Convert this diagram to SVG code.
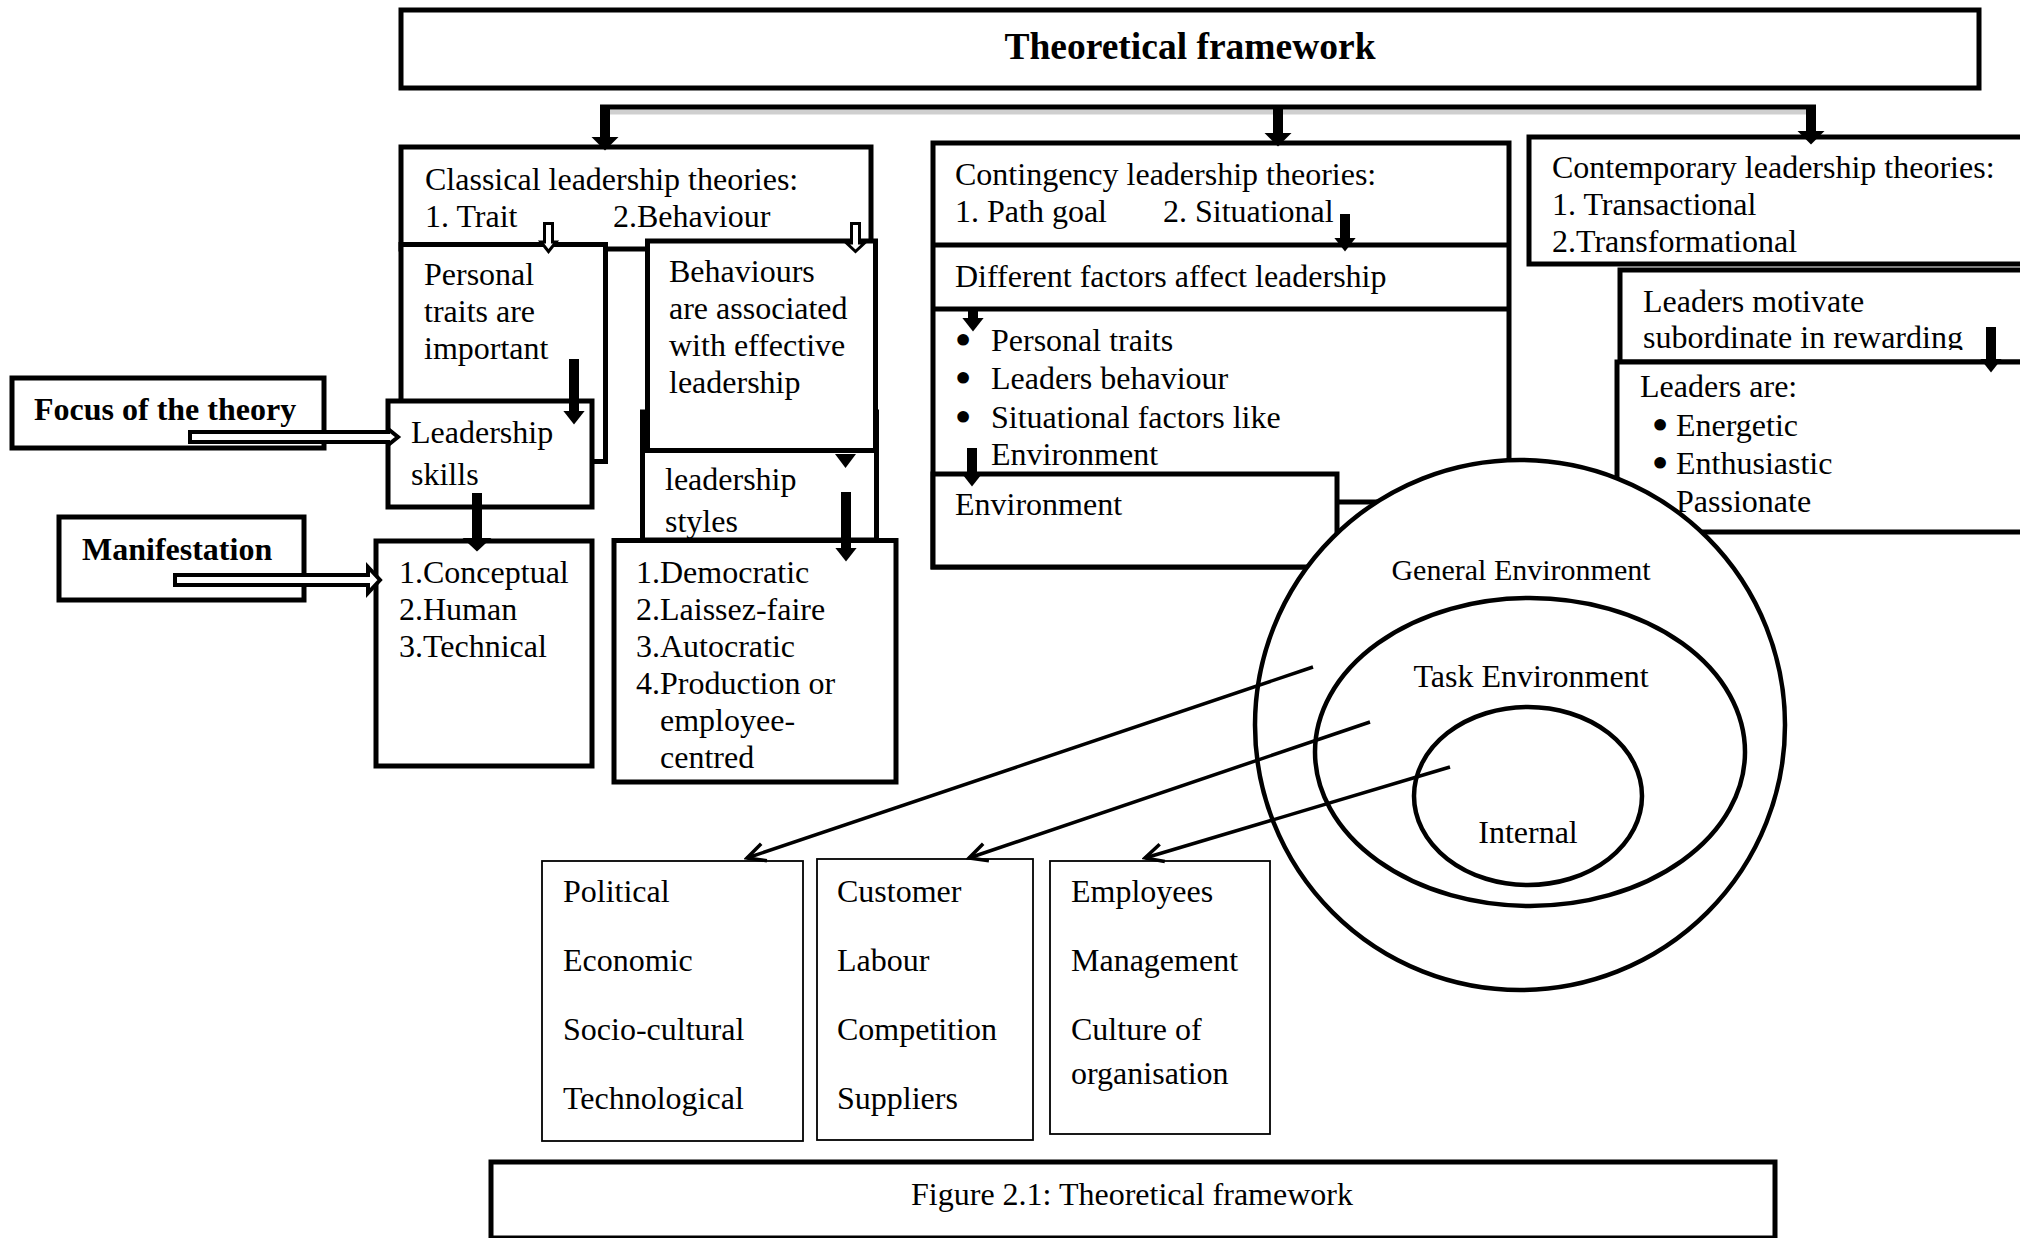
<svg xmlns="http://www.w3.org/2000/svg" width="2020" height="1238" viewBox="0 0 2020 1238">
  <defs>
    <style>
      .t{font-family:"Liberation Serif","Times New Roman",serif;font-size:32px;fill:#000}
      .bold{font-weight:bold}
      .heading{font-size:37.5px}
      .ring-label{font-size:30px}
      .dot{stroke:#000;stroke-width:4;stroke-linejoin:round}
      .box{fill:#fff;stroke:#000;stroke-width:5}
      .edge{fill:none;stroke:#000;stroke-width:5}
      .thin{fill:#fff;stroke:#000;stroke-width:1.8}
      .ring{fill:none;stroke:#000;stroke-width:4.5}
      .disc{fill:#fff;stroke:#000;stroke-width:4.5}
      .hollow{fill:#fff;stroke:#000;stroke-width:4}
      .hollow-sm{fill:#fff;stroke:#000;stroke-width:3}
      .shaft{fill:none;stroke:#000;stroke-width:10}
      .ray{fill:none;stroke:#000;stroke-width:3.5}
      .shadow{fill:none;stroke:#cfcfcf;stroke-width:5}
    </style>
    <!-- solid heads: base sits at the end of the shaft -->
    <marker id="headL" viewBox="0 0 14 28" refX="0.5" refY="14" markerWidth="14" markerHeight="28" markerUnits="userSpaceOnUse" orient="auto">
      <path d="M0,0 L14,14 L0,28 Z" fill="#000"/>
    </marker>
    <marker id="headM" viewBox="0 0 14 30" refX="0.5" refY="15" markerWidth="14" markerHeight="30" markerUnits="userSpaceOnUse" orient="auto">
      <path d="M0,0 L14,15 L0,30 Z" fill="#000"/>
    </marker>
    <marker id="headS" viewBox="0 0 14 22" refX="0.5" refY="11" markerWidth="14" markerHeight="22" markerUnits="userSpaceOnUse" orient="auto">
      <path d="M0,0 L14,11 L0,22 Z" fill="#000"/>
    </marker>
    <!-- open vee used by the environment rays -->
    <marker id="vee" viewBox="0 0 24 24" refX="21" refY="12" markerWidth="24" markerHeight="24" markerUnits="userSpaceOnUse" orient="auto">
      <path d="M3,3 L21,12 L3,21" fill="none" stroke="#000" stroke-width="3.5"/>
    </marker>
    <clipPath id="clipMotivate">
      <rect x="1600" y="270" width="420" height="80"/>
    </clipPath>
  </defs>

  <rect width="2020" height="1238" fill="#fff"/>

  <!-- heading -->
  <g id="title">
    <rect class="box" x="401" y="10" width="1578" height="78"/>
    <text class="t bold heading" x="1190" y="59" text-anchor="middle">Theoretical framework</text>
  </g>

  <!-- classical theories column -->
  <g id="classical">
    <rect class="box" x="401" y="147" width="470" height="102"/>
    <text class="t" x="425" y="190">Classical leadership theories:</text>
    <text class="t" x="425" y="227">1. Trait</text>
    <text class="t" x="613" y="227">2.Behaviour</text>
  </g>
  <g id="personal-traits">
    <rect class="box" x="401" y="244.5" width="204.5" height="217"/>
    <text class="t" x="424" y="285">Personal</text>
    <text class="t" x="424" y="322">traits are</text>
    <text class="t" x="424" y="359">important</text>
  </g>
  <g id="leadership-styles">
    <rect class="box" x="642.5" y="412" width="234" height="128"/>
    <text class="t" x="665" y="490">leadership</text>
    <text class="t" x="665" y="532">styles</text>
  </g>
  <g id="behaviours">
    <rect class="box" x="647.5" y="241" width="228" height="209.5"/>
    <text class="t" x="669" y="282">Behaviours</text>
    <text class="t" x="669" y="319">are associated</text>
    <text class="t" x="669" y="356">with effective</text>
    <text class="t" x="669" y="393">leadership</text>
  </g>
  <g id="leadership-skills">
    <rect class="box" x="388" y="401" width="204" height="106"/>
    <text class="t" x="411" y="443">Leadership</text>
    <text class="t" x="411" y="485">skills</text>
  </g>
  <g id="skills-list">
    <rect class="box" x="376" y="541" width="216" height="225"/>
    <text class="t" x="399" y="583">1.Conceptual</text>
    <text class="t" x="399" y="620">2.Human</text>
    <text class="t" x="399" y="657">3.Technical</text>
  </g>
  <g id="styles-list">
    <rect class="box" x="614" y="540.5" width="282" height="241.5"/>
    <text class="t" x="636" y="583">1.Democratic</text>
    <text class="t" x="636" y="620">2.Laissez-faire</text>
    <text class="t" x="636" y="657">3.Autocratic</text>
    <text class="t" x="636" y="694">4.Production or</text>
    <text class="t" x="660" y="731">employee-</text>
    <text class="t" x="660" y="768">centred</text>
  </g>
  <g id="focus">
    <rect class="box" x="12" y="378" width="312" height="70"/>
    <text class="t bold" x="34" y="420">Focus of the theory</text>
  </g>
  <g id="manifestation">
    <rect class="box" x="59" y="517" width="245" height="83"/>
    <text class="t bold" x="82" y="560">Manifestation</text>
  </g>

  <!-- contingency theories column -->
  <g id="contingency">
    <rect class="box" x="933" y="143" width="576" height="424"/>
    <line class="edge" x1="933" y1="245" x2="1509" y2="245"/>
    <line class="edge" x1="933" y1="309" x2="1509" y2="309"/>
    <text class="t" x="955" y="185">Contingency leadership theories:</text>
    <text class="t" x="955" y="222">1. Path goal</text>
    <text class="t" x="1163" y="222">2. Situational</text>
    <text class="t" x="955" y="287">Different factors affect leadership</text>
    <text class="t" y="351"><tspan class="dot" x="957.5">•</tspan><tspan x="991">Personal traits</tspan></text>
    <text class="t" y="389"><tspan class="dot" x="957.5">•</tspan><tspan x="991">Leaders behaviour</tspan></text>
    <text class="t" y="428"><tspan class="dot" x="957.5">•</tspan><tspan x="991">Situational factors like</tspan></text>
    <text class="t" x="991" y="465">Environment</text>
  </g>
  <g id="environment">
    <rect class="box" x="933" y="474" width="404" height="93"/>
    <line class="edge" x1="1337" y1="502" x2="1420" y2="502"/>
    <text class="t" x="955" y="515">Environment</text>
  </g>

  <!-- contemporary theories column -->
  <g id="contemporary">
    <rect class="box" x="1529" y="137" width="520" height="127"/>
    <text class="t" x="1552" y="178">Contemporary leadership theories:</text>
    <text class="t" x="1552" y="215">1. Transactional</text>
    <text class="t" x="1552" y="252">2.Transformational</text>
  </g>
  <g id="motivate">
    <rect class="box" x="1620" y="270" width="430" height="92"/>
    <g clip-path="url(#clipMotivate)">
      <text class="t" x="1643" y="312">Leaders motivate</text>
      <text class="t" x="1643" y="348">subordinate in rewarding</text>
    </g>
  </g>
  <g id="leaders-are">
    <rect class="box" x="1617" y="362" width="430" height="170"/>
    <text class="t" x="1640" y="397">Leaders are:</text>
    <text class="t" y="436"><tspan class="dot" x="1654.5">•</tspan><tspan x="1676">Energetic</tspan></text>
    <text class="t" y="474"><tspan class="dot" x="1654.5">•</tspan><tspan x="1676">Enthusiastic</tspan></text>
    <text class="t" x="1676" y="512">Passionate</text>
  </g>

  <!-- environment rings -->
  <g id="general-environment">
    <circle class="disc" cx="1520" cy="725" r="265"/>
    <text class="t ring-label" x="1521" y="580" text-anchor="middle">General Environment</text>
  </g>
  <g id="task-environment">
    <ellipse class="ring" cx="1530" cy="752" rx="215" ry="154"/>
    <text class="t" x="1531" y="687" text-anchor="middle">Task Environment</text>
  </g>
  <g id="internal-environment">
    <ellipse class="ring" cx="1528" cy="796" rx="114" ry="89"/>
    <text class="t" x="1528" y="843" text-anchor="middle">Internal</text>
  </g>

  <!-- factor lists -->
  <g id="general-factors">
    <rect class="thin" x="542" y="861" width="261" height="280"/>
    <text class="t" x="563" y="902">Political</text>
    <text class="t" x="563" y="971">Economic</text>
    <text class="t" x="563" y="1040">Socio-cultural</text>
    <text class="t" x="563" y="1109">Technological</text>
  </g>
  <g id="task-factors">
    <rect class="thin" x="817" y="859" width="216" height="281"/>
    <text class="t" x="837" y="902">Customer</text>
    <text class="t" x="837" y="971">Labour</text>
    <text class="t" x="837" y="1040">Competition</text>
    <text class="t" x="837" y="1109">Suppliers</text>
  </g>
  <g id="internal-factors">
    <rect class="thin" x="1050" y="861" width="220" height="273"/>
    <text class="t" x="1071" y="902">Employees</text>
    <text class="t" x="1071" y="971">Management</text>
    <text class="t" x="1071" y="1040">Culture of</text>
    <text class="t" x="1071" y="1084">organisation</text>
  </g>

  <g id="caption">
    <rect class="box" x="491" y="1162" width="1284" height="76"/>
    <text class="t" x="1132" y="1205" text-anchor="middle">Figure 2.1: Theoretical framework</text>
  </g>

  <!-- connectors -->
  <g id="connectors">
    <!-- top distribution bar -->
    <line class="shadow" x1="608" y1="112" x2="1806" y2="112"/>
    <line class="edge" x1="600" y1="107" x2="1816" y2="107"/>
    <line class="shaft" x1="605" y1="105" x2="605" y2="137" marker-end="url(#headL)"/>
    <line class="shaft" x1="1278" y1="105" x2="1278" y2="133" marker-end="url(#headL)"/>
    <line class="shaft" x1="1811" y1="105" x2="1811" y2="131" marker-end="url(#headL)"/>

    <!-- classical column -->
    <polygon class="hollow-sm" points="544.5,223.5 552.5,223.5 552.5,242 556,242 548.5,251.5 541,242 544.5,242"/>
    <polygon class="hollow-sm" points="851.5,223.5 859.5,223.5 859.5,243 864.5,243 855.5,251.5 846.5,243 851.5,243"/>
    <line class="shaft" x1="574" y1="359" x2="574" y2="411" marker-end="url(#headS)"/>
    <line class="shaft" x1="477" y1="493" x2="477" y2="538" marker-end="url(#headM)"/>
    <polygon points="835,454 856,454 845.5,468" fill="#000"/>
    <line class="shaft" x1="846" y1="492" x2="846" y2="548" marker-end="url(#headS)"/>
    <polygon class="hollow" points="190,432 388,432 388,429 398,437 388,445 388,442 190,442"/>
    <polygon class="hollow" points="175,575 368,575 368,567 380,580 368,593 368,585 175,585"/>

    <!-- contingency column -->
    <line class="shaft" x1="1345" y1="214" x2="1345" y2="238" marker-end="url(#headS)"/>
    <line class="shaft" x1="973" y1="311" x2="973" y2="318" marker-end="url(#headS)"/>
    <line class="shaft" x1="972" y1="448" x2="972" y2="473" marker-end="url(#headS)"/>

    <!-- contemporary column -->
    <line class="shaft" x1="1991" y1="327" x2="1991" y2="359" marker-end="url(#headS)"/>

    <!-- environment rays -->
    <line class="ray" x1="1313" y1="667" x2="747" y2="858" marker-end="url(#vee)"/>
    <line class="ray" x1="1370" y1="722" x2="969" y2="858" marker-end="url(#vee)"/>
    <line class="ray" x1="1450" y1="767" x2="1145" y2="858" marker-end="url(#vee)"/>
  </g>
</svg>
